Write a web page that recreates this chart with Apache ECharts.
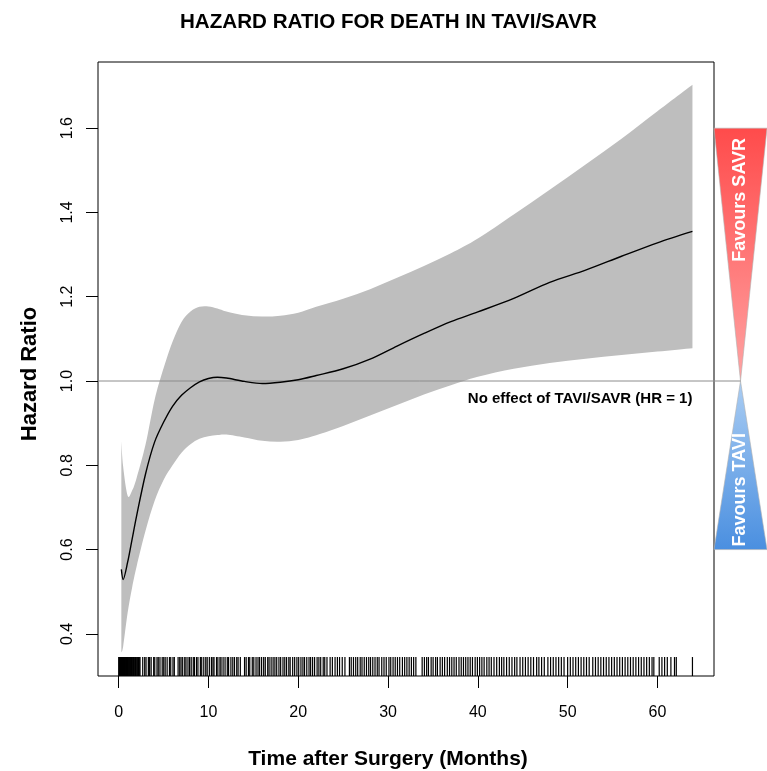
<!DOCTYPE html>
<html>
<head>
<meta charset="utf-8">
<script src="https://cdn.jsdelivr.net/npm/echarts@6/dist/echarts.min.js"></script>
<style>
  html, body { margin: 0; padding: 0; background: #fff; }
  #chart { width: 767px; height: 771px; }
</style>
</head>
<body>
<div id="chart"></div>
<script>
// time after surgery (months) where the curve was read
var months = [0.3, 0.5, 1, 1.5, 2, 3, 4, 5, 6, 7, 8, 9, 10, 11, 12, 14, 16, 18, 20, 22, 25, 28, 31, 34, 37, 40, 44, 48, 52, 56, 60, 63.9];
// hazard ratio estimate
var hazard = [0.553, 0.529, 0.57, 0.625, 0.68, 0.78, 0.855, 0.902, 0.94, 0.966, 0.984, 0.998, 1.006, 1.009, 1.007, 0.999, 0.994, 0.997, 1.003, 1.013, 1.029, 1.052, 1.083, 1.113, 1.141, 1.164, 1.196, 1.234, 1.263, 1.296, 1.328, 1.355];
// confidence band
var upper = [0.857, 0.797, 0.728, 0.74, 0.77, 0.85, 0.955, 1.03, 1.093, 1.14, 1.165, 1.176, 1.177, 1.172, 1.165, 1.156, 1.153, 1.155, 1.162, 1.176, 1.195, 1.218, 1.245, 1.273, 1.303, 1.338, 1.395, 1.454, 1.514, 1.575, 1.64, 1.703];
var lower = [0.356, 0.37, 0.45, 0.51, 0.56, 0.645, 0.715, 0.765, 0.80, 0.83, 0.85, 0.863, 0.869, 0.872, 0.873, 0.866, 0.858, 0.856, 0.86, 0.871, 0.893, 0.918, 0.943, 0.968, 0.99, 1.01, 1.029, 1.043, 1.053, 1.062, 1.07, 1.078];
// event times shown as rug
var rugTimes = [
  0.02, 0.05, 0.08, 0.11, 0.15, 0.18, 0.22, 0.26, 0.3, 0.34, 0.38, 0.42, 0.46, 0.5, 0.55, 0.6, 0.64, 0.69, 0.74, 0.79, 0.84, 0.89, 0.95, 1.0, 1.06, 1.12, 1.18, 1.24, 1.3, 1.36, 1.43, 1.5, 1.57, 1.64, 1.71, 1.79, 1.87, 1.95, 2.03, 2.12, 2.2, 2.3, 2.38,
  2.68, 2.9, 3.05, 3.31, 3.45, 3.62, 3.9, 4.02, 4.27, 4.41, 4.6, 4.85, 5.02, 5.18, 5.4, 5.66, 5.8, 6.05, 6.2, 6.62, 6.8, 6.95, 7.13, 7.36, 7.5, 7.72, 7.9, 8.08, 8.31, 8.44, 8.67, 8.83, 9.1, 9.25, 9.48, 9.7, 9.86,
  10.1, 10.33, 10.5, 10.62, 10.9, 11.05, 11.28, 11.4, 11.63, 11.85, 12.1, 12.24, 12.5, 12.71, 12.9, 13.15, 13.3, 13.55, 14.02, 14.2, 14.46, 14.6, 14.88, 15.05, 15.3, 15.52, 15.7, 15.92, 16.15, 16.33, 16.6, 16.75, 16.98, 17.2, 17.4, 17.6, 17.85, 18.04, 18.3, 18.5, 18.7, 18.95, 19.1, 19.38, 19.6, 19.85,
  20.05, 20.3, 20.52, 20.7, 20.95, 21.2, 21.38, 21.6, 21.82, 22.1, 22.3, 22.5, 22.78, 22.95, 23.2, 23.55, 23.8, 24.1, 24.36, 24.6, 24.9, 25.2, 25.7, 25.9, 26.15, 26.4, 26.62, 26.9, 27.1, 27.35, 27.6, 27.85, 28.05, 28.3, 28.55, 28.8, 29.0, 29.3, 29.55, 29.8, 30.1, 30.3, 30.56, 30.8, 31.05, 31.3, 31.6, 31.85, 32.1, 32.35, 32.6, 32.85,
  33.1, 33.8, 34.05, 34.3, 34.5, 34.8, 35.02, 35.3, 35.5, 35.8, 36.05, 36.3, 36.6, 36.85, 37.1, 37.35, 37.6, 37.9, 38.15, 38.4, 38.65, 38.9, 39.15, 39.4, 39.7, 39.95, 40.2, 40.45, 40.7, 41.0, 41.25, 41.5, 41.8,
  42.1, 42.4, 42.65, 42.9, 43.2, 43.5, 43.8, 44.1, 44.35, 44.7, 45.0, 45.3, 45.6, 45.9, 46.2, 46.55, 46.8, 47.1, 47.4, 47.8, 48.1, 48.4, 48.7, 49.0, 49.3, 49.6, 50.0, 50.3, 50.6, 50.9, 51.2, 51.5, 51.8, 52.1, 52.4, 52.8,
  53.1, 53.4, 53.7, 54.0, 54.3, 54.6, 54.9, 55.2, 55.5, 55.8, 56.1, 56.4, 56.7, 57.0, 57.3, 57.6, 57.9, 58.2, 58.5, 58.8, 59.1, 59.4, 59.6, 60.2, 60.5, 60.8, 61.1, 61.5, 61.9, 62.1,
  63.9
];
var xTicks = [0, 10, 20, 30, 40, 50, 60];
var yTicks = [0.4, 0.6, 0.8, 1.0, 1.2, 1.4, 1.6];
var refHR = 1;
var savrTop = 1.6;   // top of the "Favours SAVR" wedge
var taviBottom = 0.6; // bottom of the "Favours TAVI" wedge

var xMin = -2.3, xMax = 66.3;
var yMin = 0.30, yMax = 1.757;
var rugTop = 0.345;

var font = "Liberation Sans, Arial, Helvetica, sans-serif";

var hrData = months.map(function (m, i) { return [m, hazard[i]]; });

// smooth path through pixel points (catmull-rom as cubic beziers)
function curveThrough(pts, start) {
  var d = start ? "M" + pts[0][0] + "," + pts[0][1] : "L" + pts[0][0] + "," + pts[0][1];
  for (var i = 0; i < pts.length - 1; i++) {
    var p0 = pts[i - 1] || pts[i], p1 = pts[i], p2 = pts[i + 1], p3 = pts[i + 2] || p2;
    var c1 = [p1[0] + (p2[0] - p0[0]) / 6, p1[1] + (p2[1] - p0[1]) / 6];
    var c2 = [p2[0] - (p3[0] - p1[0]) / 6, p2[1] - (p3[1] - p1[1]) / 6];
    d += "C" + c1[0] + "," + c1[1] + " " + c2[0] + "," + c2[1] + " " + p2[0] + "," + p2[1];
  }
  return d;
}

var chart = echarts.init(document.getElementById("chart"));

chart.setOption({
  animation: false,
  backgroundColor: "#fff",
  title: {
    text: "HAZARD RATIO FOR DEATH IN TAVI/SAVR",
    left: 175,
    top: 7,
    textStyle: { fontFamily: font, fontWeight: "bold", fontSize: 20.6, color: "#000" }
  },
  grid: {
    left: 98, right: 53, top: 62, bottom: 95,
    outerBoundsMode: "none",
    show: true, borderColor: "#000", borderWidth: 1, backgroundColor: "transparent"
  },
  xAxis: {
    type: "value",
    min: xMin, max: xMax,
    name: "Time after Surgery (Months)",
    nameLocation: "middle",
    nameGap: 73,
    nameTextStyle: { fontFamily: font, fontWeight: "bold", fontSize: 21, color: "#000", padding: [0, 36, 0, 0] },
    axisLine: { show: false, onZero: false },
    splitLine: { show: false },
    axisTick: { show: true, length: 12, customValues: xTicks, lineStyle: { color: "#000" } },
    axisLabel: { customValues: xTicks, margin: 29, fontFamily: font, fontSize: 16, color: "#000" }
  },
  yAxis: {
    type: "value",
    min: yMin, max: yMax,
    name: "Hazard Ratio",
    nameLocation: "middle",
    nameGap: 57,
    nameRotate: 90,
    nameTextStyle: { fontFamily: font, fontWeight: "bold", fontSize: 22, color: "#000", padding: [0, 10, 0, 0] },
    axisLine: { show: false, onZero: false },
    splitLine: { show: false },
    axisTick: { show: true, length: 12, customValues: yTicks, lineStyle: { color: "#000" } },
    axisLabel: {
      customValues: yTicks, rotate: 90, margin: 22,
      fontFamily: font, fontSize: 16, color: "#000",
      formatter: function (v) { return v.toFixed(1); }
    }
  },
  series: [
    {
      // confidence band: upper edge forward, lower edge back
      name: "band",
      type: "custom",
      silent: true,
      z: 1,
      data: [[0]],
      renderItem: function (params, api) {
        var up = [], lo = [];
        for (var i = 0; i < months.length; i++) up.push(api.coord([months[i], upper[i]]));
        for (var j = months.length - 1; j >= 0; j--) lo.push(api.coord([months[j], lower[j]]));
        return {
          type: "path",
          shape: { pathData: curveThrough(up, true) + curveThrough(lo, false) + "Z" },
          style: { fill: "#bebebe" }
        };
      }
    },
    {
      // reference line, wedges and their texts
      type: "custom",
      clip: false,
      silent: true,
      z: 2,
      data: [[refHR]],
      renderItem: function (params, api) {
        var ref = api.coord([xMin, refHR]);
        var topL = api.coord([xMax, savrTop]);
        var botL = api.coord([xMax, taviBottom]);
        var xl = topL[0];
        var xr = api.getWidth();
        var apexX = (xl + xr) / 2;
        var apexY = ref[1];
        var endTxt = api.coord([63.9, refHR]);
        return {
          type: "group",
          children: [
            {
              type: "polygon",
              shape: { points: [[xl, topL[1]], [xr, topL[1]], [apexX, apexY]] },
              style: {
                fill: new echarts.graphic.LinearGradient(0, 0, 0, 1, [
                  { offset: 0, color: "#ff4b4b" },
                  { offset: 1, color: "#ffa3a3" }
                ]),
                stroke: "#b0b0b0", lineWidth: 0.6
              }
            },
            {
              type: "polygon",
              shape: { points: [[xl, botL[1]], [xr, botL[1]], [apexX, apexY]] },
              style: {
                fill: new echarts.graphic.LinearGradient(0, 1, 0, 0, [
                  { offset: 0, color: "#4a8fe0" },
                  { offset: 1, color: "#aacdf3" }
                ]),
                stroke: "#b0b0b0", lineWidth: 0.6
              }
            },
            {
              type: "line",
              shape: { x1: ref[0], y1: apexY, x2: apexX, y2: apexY },
              style: { stroke: "#8c8c8c", lineWidth: 1 }
            },
            {
              type: "text",
              x: apexX, y: api.coord([xMax, 1.43])[1],
              rotation: Math.PI / 2,
              style: {
                text: "Favours SAVR", fill: "#fff",
                font: "bold 18px " + font,
                align: "center", verticalAlign: "middle"
              }
            },
            {
              type: "text",
              x: apexX, y: api.coord([xMax, 0.742])[1],
              rotation: Math.PI / 2,
              style: {
                text: "Favours TAVI", fill: "#fff",
                font: "bold 18px " + font,
                align: "center", verticalAlign: "middle"
              }
            },
            {
              type: "text",
              x: endTxt[0], y: apexY + 18,
              style: {
                text: "No effect of TAVI/SAVR (HR = 1)", fill: "#000",
                font: "bold 15px " + font,
                align: "right", verticalAlign: "middle"
              }
            }
          ]
        };
      }
    },
    {
      name: "hazard",
      type: "line",
      data: hrData,
      smooth: 0.3,
      showSymbol: false,
      lineStyle: { color: "#000", width: 1.4 },
      silent: true,
      z: 3
    },
    {
      name: "rug",
      type: "custom",
      silent: true,
      z: 3,
      data: rugTimes.map(function (t) { return [t]; }),
      renderItem: function (params, api) {
        var t = api.value(0);
        var p0 = api.coord([t, yMin]);
        var p1 = api.coord([t, rugTop]);
        return {
          type: "line",
          shape: { x1: p0[0], y1: p0[1], x2: p1[0], y2: p1[1] },
          style: { stroke: "#000", lineWidth: 1.2 }
        };
      }
    }
  ]
});
</script>
</body>
</html>
